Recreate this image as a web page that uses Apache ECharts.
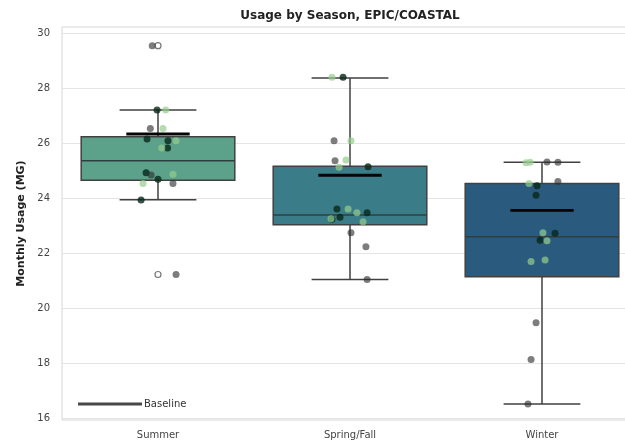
<!DOCTYPE html>
<html>
<head>
<meta charset="utf-8">
<script src="https://cdn.jsdelivr.net/npm/echarts@6/dist/echarts.min.js"></script>
<style>html,body{margin:0;padding:0;background:#fff;overflow:hidden;}#c{width:625px;height:445px;}</style>
</head>
<body>
<div id="c"></div>
<script>
// ---- data ----
const categories = ['Summer', 'Spring/Fall', 'Winter'];
const yTicks = [16, 18, 20, 22, 24, 26, 28, 30];

// box statistics per season
const boxLow    = [23.94, 21.04, 16.51];
const boxQ1     = [24.65, 23.03, 21.14];
const boxMedian = [25.36, 23.38, 22.59];
const boxQ3     = [26.23, 25.16, 24.53];
const boxHigh   = [27.20, 28.37, 25.30];
const boxMean   = [26.33, 24.83, 23.55];

// outliers (category index, value)
const outlierCat = [0, 0];
const outlierVal = [29.54, 21.22];

// individual observations (strip points); jitter in category-width units, group = hue class
const summerValues = [29.54, 27.20, 27.20, 26.53, 26.53, 26.15, 26.08, 26.08, 25.82, 25.82, 24.92, 24.84, 24.68, 24.53, 24.53, 24.87, 23.93, 21.22];
const summerJitter = [-0.03, -0.005, 0.04, -0.04, 0.026, -0.057, 0.052, 0.094, 0.05, 0.02, -0.062, -0.036, 0.0, 0.078, -0.078, 0.078, -0.088, 0.094];
const summerGroup  = ['grey','dark','light','grey','light','dark','dark','light','dark','light','dark','grey','dark','grey','light','light','dark','grey'];

const springValues = [28.39, 28.39, 26.08, 26.08, 25.36, 25.38, 25.12, 25.14, 23.60, 23.60, 23.47, 23.47, 23.23, 23.30, 23.14, 23.25, 22.74, 22.23, 21.04];
const springJitter = [-0.036, -0.094, -0.083, 0.005, -0.078, -0.021, -0.057, 0.094, -0.068, -0.01, 0.036, 0.089, -0.094, -0.052, 0.068, -0.099, 0.005, 0.083, 0.089];
const springGroup  = ['dark','light','grey','light','grey','light','light','dark','dark','light','light','dark','dark','dark','light','light','grey','grey','grey'];

const winterValues = [25.28, 25.30, 25.31, 25.30, 24.53, 24.45, 24.60, 24.10, 22.74, 22.72, 22.47, 22.45, 21.69, 21.75, 19.47, 18.13, 16.51];
const winterJitter = [-0.083, -0.062, 0.026, 0.083, -0.068, -0.026, 0.083, -0.031, 0.005, 0.068, -0.01, 0.026, -0.057, 0.016, -0.031, -0.057, -0.073];
const winterGroup  = ['light','light','grey','grey','light','dark','grey','dark','light','dark','dark','light','light','light','grey','grey','grey'];

// ---- styling ----
const boxColors = ['#5ca28a', '#3a7d88', '#2a5a7d'];
const groupColors = {
  grey:  'rgba(45,45,45,0.62)',
  dark:  'rgba(8,40,25,0.8)',
  light: 'rgba(150,205,140,0.7)'
};

const boxData = categories.map((c, i) => [i, boxLow[i], boxQ1[i], boxMedian[i], boxQ3[i], boxHigh[i], boxMean[i]]);
const outlierData = outlierCat.map((c, i) => [c, outlierVal[i]]);
function stripData(ci, vals, jit, grp) {
  return vals.map((v, i) => ({ value: [ci, v, jit[i]], grp: grp[i] }));
}
const pointData = [].concat(
  stripData(0, summerValues, summerJitter, summerGroup),
  stripData(1, springValues, springJitter, springGroup),
  stripData(2, winterValues, winterJitter, winterGroup)
);

const chart = echarts.init(document.getElementById('c'));
const FONT = 'DejaVu Sans';

chart.setOption({
  animation: false,
  backgroundColor: '#fff',
  title: {
    text: 'Usage by Season, EPIC/COASTAL',
    left: 345, top: 5, textAlign: 'center',
    textStyle: { fontFamily: FONT, fontSize: 12, fontWeight: 'bold', color: '#222' }
  },
  legend: {
    left: 78, top: 399, padding: 0,
    data: [{ name: 'Baseline', icon: 'rect' }],
    itemWidth: 64, itemHeight: 3,
    textStyle: { fontFamily: FONT, fontSize: 10, color: '#333', padding: [0, 0, 0, -3] }
  },
  grid: {
    left: 62, width: 576, top: 27, bottom: 25,
    outerBoundsMode: 'none', containLabel: false,
    show: true, borderColor: '#d6d6d6', borderWidth: 1
  },
  xAxis: {
    type: 'category', data: categories,
    axisLine: { show: false }, axisTick: { show: false },
    axisLabel: { fontFamily: FONT, fontSize: 10, color: '#444', margin: 10 },
    splitLine: { show: false }
  },
  yAxis: {
    type: 'value', min: 15.93, max: 30.22,
    name: 'Monthly Usage (MG)', nameLocation: 'middle', nameGap: 30,
    nameTextStyle: { fontFamily: FONT, fontSize: 11, fontWeight: 'bold', color: '#222' },
    axisLine: { show: false },
    axisTick: { show: false, customValues: yTicks },
    axisLabel: { fontFamily: FONT, fontSize: 10, color: '#444', margin: 12, customValues: yTicks },
    splitLine: { show: true, lineStyle: { color: '#e4e4e4', width: 1 } }
  },
  series: [
    {
      type: 'custom', name: 'box', z: 2,
      data: boxData,
      encode: { x: 0, y: [1, 2, 3, 4, 5, 6] },
      renderItem: function (params, api) {
        const ci = api.value(0);
        const bw = api.size([1, 0])[0];
        const p = (v) => api.coord([ci, v]);
        const cx = p(api.value(3))[0];
        const yLow = p(api.value(1))[1], yQ1 = p(api.value(2))[1], yMed = p(api.value(3))[1],
              yQ3 = p(api.value(4))[1], yHigh = p(api.value(5))[1], yMean = p(api.value(6))[1];
        const half = bw * 0.4, cap = bw * 0.2, mh = bw * 0.165;
        const edge = '#404040';
        return {
          type: 'group',
          children: [
            { type: 'line', shape: { x1: cx, y1: yLow, x2: cx, y2: yQ1 }, style: { stroke: edge, lineWidth: 1.5 } },
            { type: 'line', shape: { x1: cx, y1: yQ3, x2: cx, y2: yHigh }, style: { stroke: edge, lineWidth: 1.5 } },
            { type: 'line', shape: { x1: cx - cap, y1: yLow, x2: cx + cap, y2: yLow }, style: { stroke: edge, lineWidth: 1.5 } },
            { type: 'line', shape: { x1: cx - cap, y1: yHigh, x2: cx + cap, y2: yHigh }, style: { stroke: edge, lineWidth: 1.5 } },
            { type: 'rect', shape: { x: cx - half, y: yQ3, width: 2 * half, height: yQ1 - yQ3 },
              style: { fill: boxColors[ci], stroke: edge, lineWidth: 1.5 } },
            { type: 'line', shape: { x1: cx - half, y1: yMed, x2: cx + half, y2: yMed }, style: { stroke: '#2f3f3f', lineWidth: 1.5 } },
            { type: 'line', z2: 20, shape: { x1: cx - mh, y1: yMean, x2: cx + mh, y2: yMean }, style: { stroke: '#050505', lineWidth: 2.8 } }
          ]
        };
      }
    },
    {
      type: 'scatter', name: 'outliers', z: 3,
      data: outlierData, symbol: 'circle', symbolSize: 6,
      itemStyle: { color: 'rgba(255,255,255,0)', borderColor: '#555', borderWidth: 1.2 }
    },
    {
      type: 'custom', name: 'points', z: 4,
      data: pointData,
      encode: { x: 0, y: 1 },
      renderItem: function (params, api) {
        const ci = api.value(0);
        const bw = api.size([1, 0])[0];
        const pt = api.coord([ci, api.value(1)]);
        const grp = pointData[params.dataIndex].grp;
        return {
          type: 'circle',
          shape: { cx: pt[0] + api.value(2) * bw, cy: pt[1], r: 3.5 },
          style: { fill: groupColors[grp] }
        };
      }
    },
    {
      type: 'line', name: 'Baseline', data: [],
      itemStyle: { color: '#474747' }, lineStyle: { color: '#474747', width: 2.5 }
    }
  ]
});
</script>
</body>
</html>
